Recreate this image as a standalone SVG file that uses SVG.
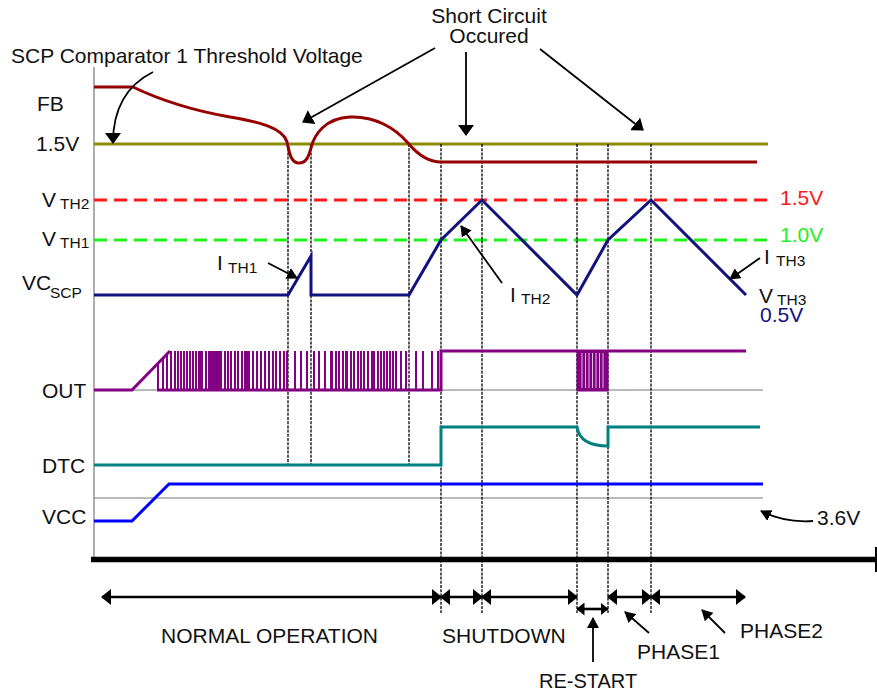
<svg xmlns="http://www.w3.org/2000/svg" width="877" height="695" viewBox="0 0 877 695">
<style>
text{font-family:"Liberation Sans",Arial,sans-serif;font-size:21px;fill:#111}
.sub{font-size:15.5px}
.sig{fill:none;stroke-width:3;stroke-linejoin:miter}
.dot{stroke:#000;stroke-width:1.3;stroke-dasharray:3 1.2;fill:none}
.thin{stroke:#777;stroke-width:1.2;fill:none}
.ann{stroke:#000;stroke-width:1.8;fill:none}
.span{stroke:#000;stroke-width:2.6;fill:none;marker-start:url(#dh);marker-end:url(#dh)}
</style>
<defs>
<marker id="big" markerUnits="userSpaceOnUse" markerWidth="11" markerHeight="16" refX="10" refY="8" orient="auto"><path d="M0,0 L11,8 L0,16 z" fill="#000"/></marker>
<marker id="sm" markerUnits="userSpaceOnUse" markerWidth="11" markerHeight="12" refX="10" refY="6" orient="auto"><path d="M0,0 L11,6 L0,12 z" fill="#000"/></marker>
<marker id="dh" markerUnits="userSpaceOnUse" markerWidth="10" markerHeight="16" refX="9" refY="8" orient="auto-start-reverse"><path d="M0,0 L10,8 L0,16 z" fill="#000"/></marker>
<marker id="dhs" markerUnits="userSpaceOnUse" markerWidth="8" markerHeight="13" refX="7.5" refY="6.5" orient="auto-start-reverse"><path d="M0,0 L8,6.5 L0,13 z" fill="#000"/></marker>
</defs>
<rect width="877" height="695" fill="#fff"/>

<g id="axes">
<path class="thin" d="M94,67 V557"/>
<path class="thin" d="M94,390 H763 M94,498 H763"/>
<path d="M91,559.5 H876" stroke="#000" stroke-width="5.5" fill="none"/>
<path d="M876,547 V572" stroke="#000" stroke-width="2" fill="none"/>
</g>

<g id="thresholds">
<path d="M94,144 H768" stroke="#8c8c00" stroke-width="3" fill="none"/>
<path d="M94,200 H768" stroke="#ff1a1a" stroke-width="3" stroke-dasharray="13 7" fill="none"/>
<path d="M94,240 H768" stroke="#22ee22" stroke-width="3" stroke-dasharray="13 7" fill="none"/>
</g>

<g id="markers">
<path class="dot" d="M288,144 V465 M311,144 V465 M409,144 V465 M441,144 V613 M482,144 V613 M577,144 V613 M608,144 V613 M651,144 V613"/>
</g>

<g id="fb">
<path class="sig" stroke="#960000" d="M94,87 H133 C160,100 190,110 230,117 C260,122 283,128 287,142 C289,150 290,163 299,163 C307,163 309,155 311,148 C314,135 325,118 350,117 C375,116 395,128 408,143 C418,155 428,162 441,162 H757"/>
</g>

<g id="vcscp">
<path class="sig" stroke="#12127e" d="M94,295 H288 L311,256 V295 H409 L441,240 L482,200 L577,295 L608,240 L651,200 L746,295"/>
</g>

<g id="out">
<path class="sig" stroke="#820082" d="M94,390 H132 L170,351 M157,390 H441 V351 H577 M608,351 H746"/>
<path fill="#820082" d="M157,364h2v26h-2z M162,359h2v31h-2z M166,355h2v35h-2z
M170,351h2v39h-2z M174,351h2v39h-2z M177,351h2v39h-2z M180,351h2v39h-2z M183,351h2v39h-2z M186,351h2v39h-2z M189,351h2v39h-2z M192,351h2v39h-2z M195,351h2v39h-2z M198,351h5v39h-5z M205,351h2v39h-2z M208,351h14v39h-14z M224,351h2v39h-2z M227,351h2v39h-2z M230,351h2v39h-2z M234,351h2v39h-2z M237,351h2v39h-2z M241,351h2v39h-2z M244,351h6v39h-6z M252,351h2v39h-2z M256,351h2v39h-2z M260,351h2v39h-2z M264,351h2v39h-2z M268,351h2v39h-2z M272,351h2v39h-2z M275,351h2v39h-2z M279,351h2v39h-2z M283,351h2v39h-2z M286,351h2v39h-2z
M294,351h2v39h-2z M300,351h2v39h-2z M306,351h2v39h-2z
M313,351h2v39h-2z M318,351h2v39h-2z M324,351h2v39h-2z M330,351h3v39h-3z M335,351h2v39h-2z M338,351h2v39h-2z M342,351h2v39h-2z M345,351h3v39h-3z M350,351h2v39h-2z M353,351h2v39h-2z M357,351h2v39h-2z M360,351h2v39h-2z M363,351h2v39h-2z M367,351h2v39h-2z M371,351h4v39h-4z M377,351h2v39h-2z M380,351h2v39h-2z M383,351h2v39h-2z M386,351h2v39h-2z M389,351h2v39h-2z M392,351h2v39h-2z M395,351h2v39h-2z M400,351h2v39h-2z M405,351h2v39h-2z M415,351h2v39h-2z M422,351h2v39h-2z M431,351h2v39h-2z M437,351h2v39h-2z"/>
<rect x="576.5" y="349.5" width="32" height="42" fill="#820082"/>
<path d="M582,353 V388 M585.5,353 V388 M589,353 V388 M592.5,353 V388 M596,353 V388 M599.5,353 V388 M603,353 V388" stroke="#fff" stroke-opacity="0.75" stroke-width="1" fill="none"/>
</g>

<g id="dtc">
<path class="sig" stroke="#008080" d="M94,465 H441 V427 H577 C579,440 590,446 608,446 V427 H760"/>
</g>

<g id="vcc">
<path class="sig" stroke="#0000ff" d="M94,521 H132 L169,484 H763"/>
</g>

<g id="labels">
<text x="11" y="63">SCP Comparator 1 Threshold Voltage</text>
<text x="489" y="23" text-anchor="middle">Short Circuit</text>
<text x="489" y="43" text-anchor="middle">Occured</text>
<text x="37" y="111">FB</text>
<text x="36" y="151">1.5V</text>
<text x="42" y="207">V</text><text class="sub" x="60" y="209">TH2</text>
<text x="42" y="246">V</text><text class="sub" x="60" y="248">TH1</text>
<text x="22" y="290">VC</text><text class="sub" x="50" y="298">SCP</text>
<text x="42" y="398">OUT</text>
<text x="42" y="473">DTC</text>
<text x="42" y="524">VCC</text>
<text x="217" y="270">I</text><text class="sub" x="228" y="273">TH1</text>
<text x="510" y="302">I</text><text class="sub" x="521" y="304">TH2</text>
<text x="764" y="264">I</text><text class="sub" x="776" y="266">TH3</text>
<text x="759" y="303">V</text><text class="sub" x="777" y="305">TH3</text>
<text x="780" y="205" style="fill:#ff1a1a">1.5V</text>
<text x="780" y="242" style="fill:#22ee22">1.0V</text>
<text x="760" y="322" style="fill:#12127e">0.5V</text>
<text x="817" y="525">3.6V</text>
<text x="161" y="643">NORMAL OPERATION</text>
<text x="442" y="643">SHUTDOWN</text>
<text x="539" y="688" style="font-size:20px">RE-START</text>
<text x="637" y="659">PHASE1</text>
<text x="740" y="638">PHASE2</text>
</g>

<g id="connectors">
<path class="ann" marker-end="url(#big)" d="M153,72 Q113,92 113,143"/>
<path class="ann" marker-end="url(#big)" d="M435,48 L303,122"/>
<path class="ann" marker-end="url(#big)" d="M466,52 L466,135"/>
<path class="ann" marker-end="url(#big)" d="M540,49 L643,130"/>
<path class="ann" marker-end="url(#sm)" d="M268,263 L297,278"/>
<path class="ann" marker-end="url(#sm)" d="M502,283 L461,226"/>
<path class="ann" marker-end="url(#sm)" d="M760,258 L730,279"/>
<path class="ann" marker-end="url(#sm)" d="M813,521 Q785,523 761,511"/>
<path class="ann" marker-end="url(#sm)" d="M593,662 L593,618"/>
<path class="ann" marker-end="url(#sm)" d="M649,633 L625,612"/>
<path class="ann" marker-end="url(#sm)" d="M725,633 L702,610"/>
<path class="span" d="M102,597 H441"/>
<path class="span" d="M441,597 H482"/>
<path class="span" d="M482,597 H577"/>
<path class="span" d="M608,597 H651"/>
<path class="span" d="M651,597 H745"/>
<path stroke="#000" stroke-width="2.6" fill="none" marker-start="url(#dhs)" marker-end="url(#dhs)" d="M577,609 H608"/>
</g>
</svg>
